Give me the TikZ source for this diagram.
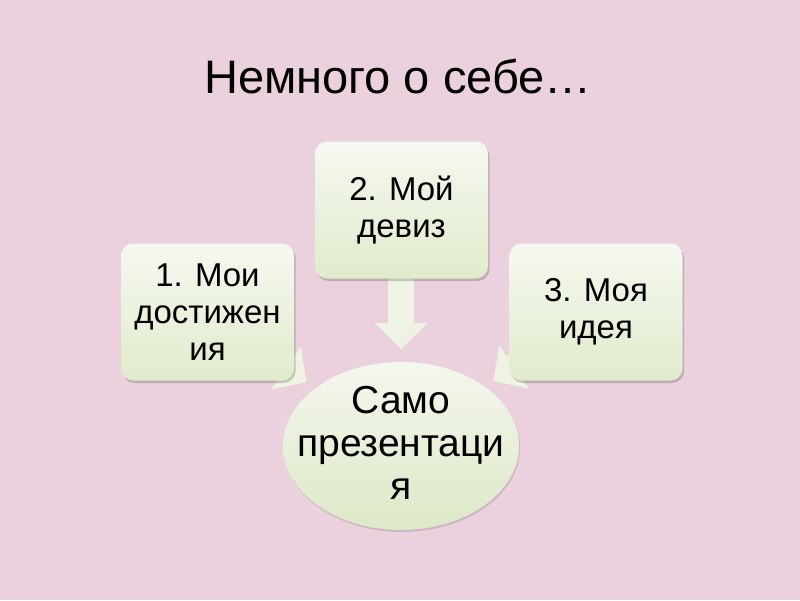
\documentclass[tikz,border=0pt]{standalone}
\usepackage{fontspec}
\setmainfont{Liberation Sans}
\usetikzlibrary{shadows,shapes.geometric}
\definecolor{bgpink}{HTML}{EBD1DD}
\definecolor{boxtop}{HTML}{F5F8F0}
\definecolor{boxbot}{HTML}{E0EBCC}
\definecolor{arrowfill}{HTML}{EEF3E4}
\definecolor{elltop}{HTML}{F4F7EE}
\definecolor{ellbot}{HTML}{DCE8C6}
\tikzset{
  infobox/.style={rectangle, rounded corners=12pt, minimum width=173pt, minimum height=137pt,
    inner sep=0pt, align=center, top color=boxtop, bottom color=boxbot,
    font=\fontsize{33}{37}\selectfont,
    drop shadow={shadow xshift=1.5pt, shadow yshift=-2.5pt, opacity=0.18, fill=black}},
  blockarrow/.style={fill=arrowfill, draw=none},
  ellshade/.style={top color=elltop, bottom color=ellbot, draw=none,
    drop shadow={shadow xshift=1pt, shadow yshift=-2pt, opacity=0.12, fill=black}},
  titletext/.style={font=\fontsize{47}{50}\selectfont, anchor=base west, inner sep=0pt},
  elltext/.style={font=\fontsize{39}{43}\selectfont, align=center, inner sep=0pt}
}
\begin{document}
\begin{tikzpicture}[x=1pt, y=-1pt]
\fill[bgpink] (0,0) rectangle (800,600);
\useasboundingbox (0,0) rectangle (800,600);

\node[titletext] (title) at (204,93) {Немного о себе…};

% arrows (drawn first, partly hidden)
\fill[blockarrow] (388,265) -- (414,265) -- (414,323) -- (428,323) -- (401,349) -- (375,323) -- (388,323) -- cycle;
\fill[blockarrow] (244.4,323.3) -- (293.4,357.3) -- (300.7,346.6) -- (306.6,382.2) -- (271.3,389.4) -- (278.6,378.7) -- (229.6,344.7) -- cycle;
\fill[blockarrow] (556,322.3) -- (506.6,356.3) -- (499.3,345.6) -- (493.4,381.2) -- (528.7,388.4) -- (521.4,377.7) -- (570.8,343.7) -- cycle;

% boxes
\node[infobox] (b1) at (207.5,312) {1. Мои\\достижен\\ия};
\node[infobox] (b2) at (401.5,210) {2. Мой\\девиз};
\node[infobox] (b3) at (596,312) {3. Моя\\идея};

% ellipse
\path[ellshade] (401,446) ellipse [x radius=118, y radius=84];
\node[elltext] (center) at (401,443) {Само\\презентаци\\я};
\end{tikzpicture}
\end{document}
